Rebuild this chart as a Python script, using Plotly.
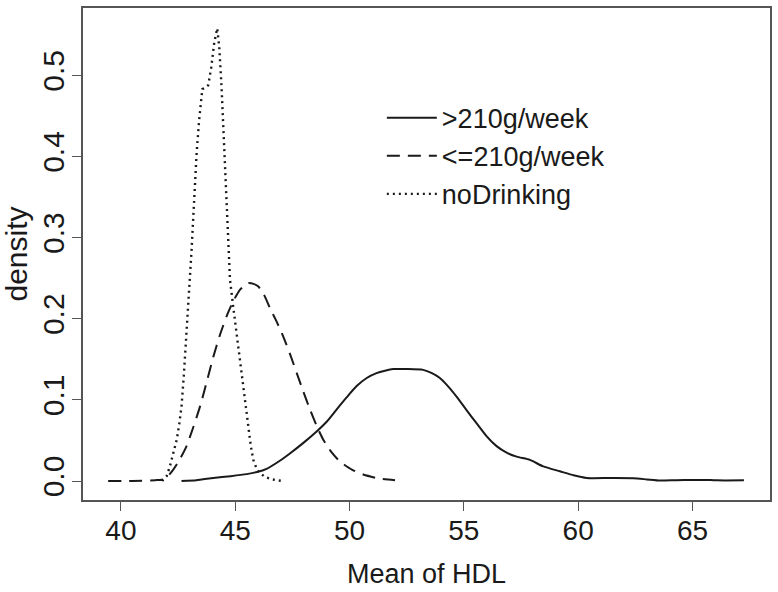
import plotly.graph_objects as go

# ---- data ----
heavy_x = [42.65, 43.3, 44.04, 44.8, 45.5, 45.95, 46.37, 46.9, 47.39, 47.98, 48.56, 49.0, 49.43,
           49.87, 50.31, 50.75, 51.18, 51.55, 51.91, 52.5, 53.22, 53.6, 53.95, 54.3, 54.68, 55.1,
           55.56, 56.0, 56.43, 56.87, 57.31, 57.89, 58.47, 59.2, 59.8, 60.37, 61.4, 62.41, 63.0,
           63.58, 64.3, 65.0, 65.8, 66.06, 67.25]
heavy_y = [0.000, 0.001, 0.0037, 0.006, 0.0085, 0.011, 0.015, 0.024, 0.034, 0.047, 0.061, 0.073,
           0.088, 0.103, 0.117, 0.127, 0.133, 0.136, 0.138, 0.138, 0.137, 0.133, 0.127, 0.117,
           0.104, 0.088, 0.071, 0.055, 0.043, 0.035, 0.030, 0.026, 0.018, 0.012, 0.007, 0.0037,
           0.0037, 0.0035, 0.002, 0.0005, 0.001, 0.0012, 0.0012, 0.0008, 0.0008]

light_x = [39.44, 40.5, 41.5, 41.85, 42.05, 42.29, 42.58, 42.87, 43.16, 43.46, 43.75, 44.04, 44.33,
           44.62, 44.92, 45.21, 45.57, 45.80, 46.00, 46.25, 46.52, 46.80, 47.10, 47.40, 47.69,
           47.98, 48.27, 48.56, 48.85, 49.20, 49.58, 50.10, 50.60, 51.30, 51.99]
light_y = [0.000, 0.000, 0.001, 0.002, 0.006, 0.014, 0.027, 0.043, 0.066, 0.092, 0.122, 0.153,
           0.180, 0.203, 0.222, 0.236, 0.244, 0.243, 0.240, 0.230, 0.213, 0.197, 0.178, 0.156,
           0.133, 0.110, 0.088, 0.068, 0.051, 0.036, 0.024, 0.014, 0.008, 0.003, 0.001]

none_x = [41.80, 42.00, 42.14, 42.30, 42.44, 42.55, 42.65, 42.75, 42.83, 42.92, 43.01, 43.09,
          43.20, 43.31, 43.42, 43.56, 43.70, 43.82, 43.95, 44.08, 44.21, 44.30, 44.40, 44.50,
          44.62, 44.70, 44.77, 44.91, 45.02, 45.13, 45.24, 45.35, 45.46, 45.57, 45.68, 45.79,
          45.95, 46.08, 46.30, 46.60, 47.05]
none_y = [0.000, 0.006, 0.018, 0.035, 0.051, 0.070, 0.092, 0.130, 0.166, 0.205, 0.240, 0.285,
          0.345, 0.404, 0.445, 0.483, 0.485, 0.488, 0.510, 0.540, 0.558, 0.535, 0.486, 0.420,
          0.346, 0.295, 0.248, 0.215, 0.190, 0.166, 0.141, 0.116, 0.089, 0.063, 0.043, 0.026,
          0.014, 0.0099, 0.005, 0.002, 0.000]

series_names = [">210g/week", "<=210g/week", "noDrinking"]
x_ticks = [40, 45, 50, 55, 60, 65]
y_ticks = [0.0, 0.1, 0.2, 0.3, 0.4, 0.5]
y_tick_text = ["0.0", "0.1", "0.2", "0.3", "0.4", "0.5"]

FONT = "Liberation Sans, Arial, sans-serif"
INK = "#1a1a1a"

fig = go.Figure()
fig.add_trace(go.Scatter(x=heavy_x, y=heavy_y, mode="lines", name=series_names[0],
                         line=dict(color=INK, width=2, shape="spline", smoothing=0.6)))
fig.add_trace(go.Scatter(x=light_x, y=light_y, mode="lines", name=series_names[1],
                         line=dict(color=INK, width=2, dash="13px,8px", shape="spline", smoothing=0.6)))
fig.add_trace(go.Scatter(x=none_x, y=none_y, mode="lines", name=series_names[2],
                         line=dict(color=INK, width=2.4, dash="2px,4px")))

fig.update_layout(
    width=778, height=592,
    margin=dict(l=83, r=8, t=8, b=92, autoexpand=False),
    paper_bgcolor="white", plot_bgcolor="white",
    font=dict(family=FONT, color=INK),
    showlegend=True,
    legend=dict(x=0.435, y=0.826, xanchor="left", yanchor="top",
                bgcolor="rgba(0,0,0,0)", borderwidth=0,
                font=dict(size=27, family=FONT, color=INK),
                itemwidth=50, tracegroupgap=0),
    xaxis=dict(range=[38.34, 68.39], tickvals=x_ticks, ticks="outside", ticklen=9,
               tickwidth=1.2, tickcolor="#555", showline=True, linecolor="#555", linewidth=1.5,
               mirror=True, showgrid=False, zeroline=False, automargin=False,
               ticklabelstandoff=-4,
               tickfont=dict(size=28, family=FONT, color=INK),
               title=dict(text="Mean of HDL", font=dict(size=27, family=FONT, color=INK), standoff=19)),
    yaxis=dict(range=[-0.0234, 0.583], tickvals=y_ticks, ticktext=y_tick_text, ticks="outside",
               ticklen=9, tickwidth=1.2, tickcolor="#555", tickangle=-90,
               showline=True, linecolor="#555", linewidth=1.5, mirror=True,
               showgrid=False, zeroline=False, automargin=False,
               ticklabelstandoff=-4,
               tickfont=dict(size=30, family=FONT, color=INK),
               title=dict(text="density", font=dict(size=30, family=FONT, color=INK), standoff=2)),
)

fig.write_html("out.html", config={"displayModeBar": False},
               post_script="document.body.style.margin='0';")
